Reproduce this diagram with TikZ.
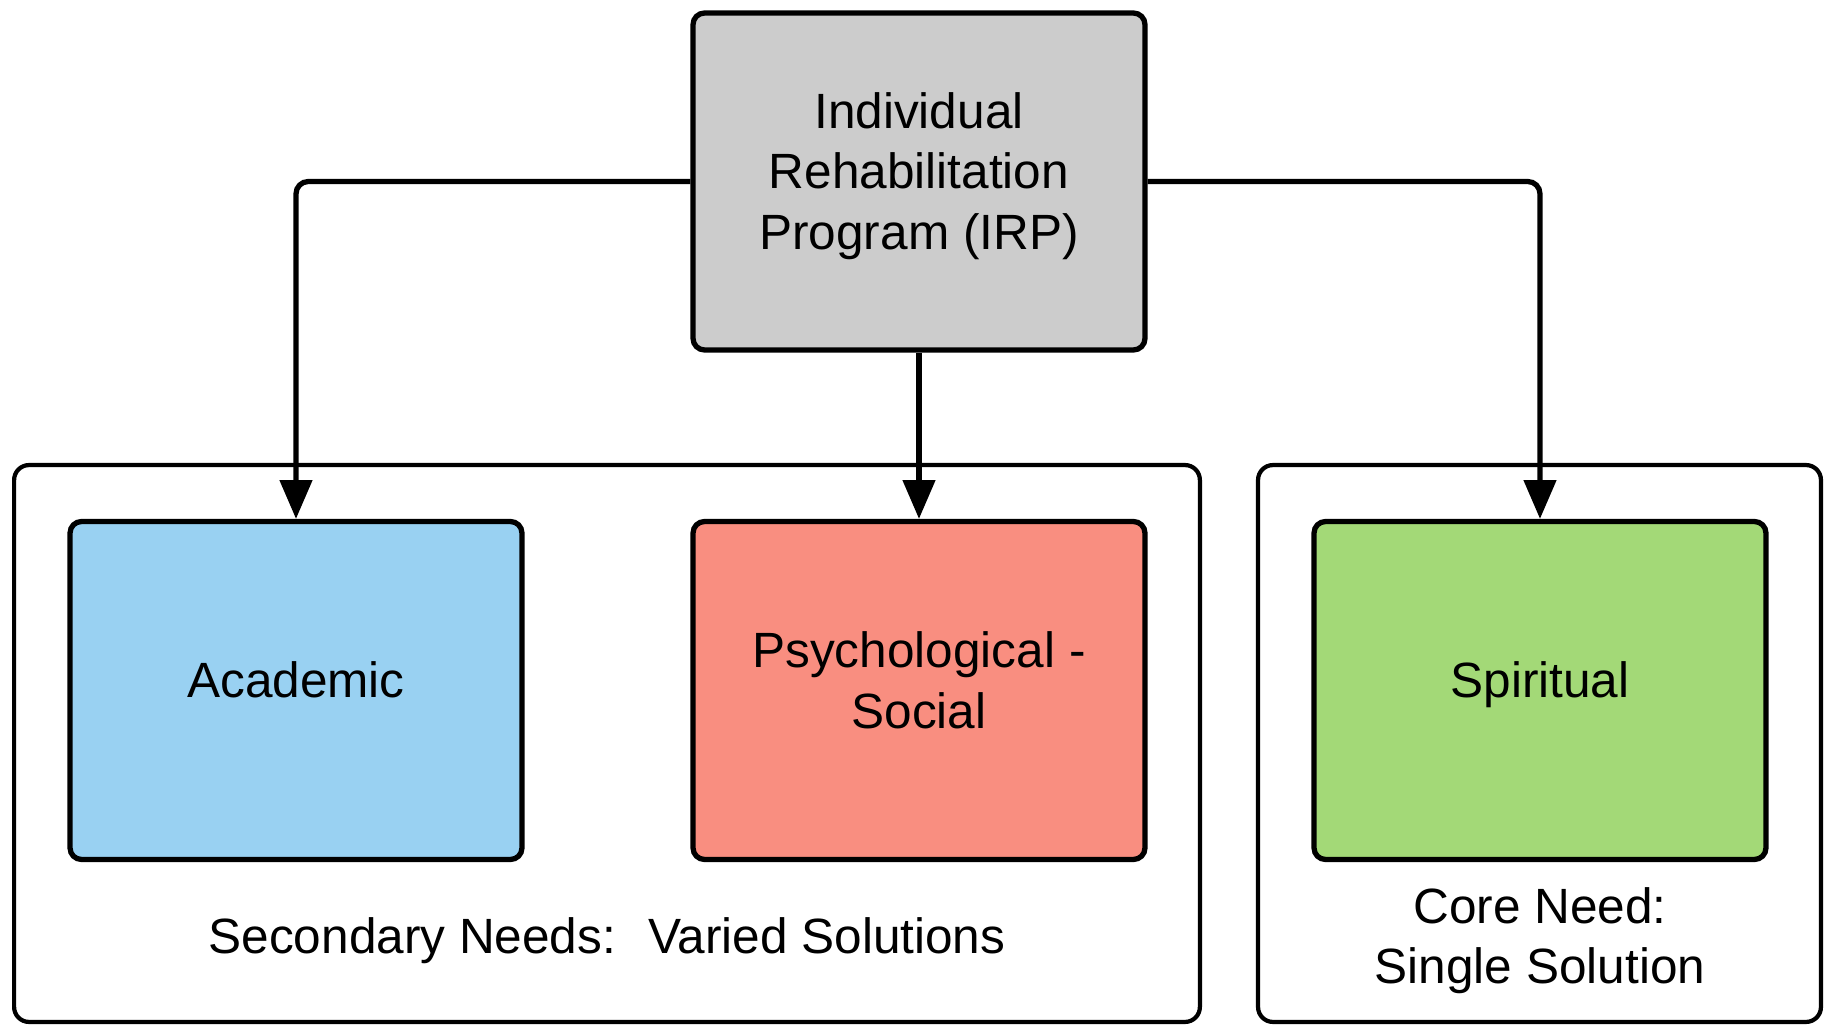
\documentclass[tikz,border=0pt]{standalone}
\usepackage{fontspec}
\setmainfont{Liberation Sans}
\usetikzlibrary{arrows.meta}
\definecolor{irpgray}{HTML}{CCCCCC}
\definecolor{acadblue}{HTML}{99D1F2}
\definecolor{psyred}{HTML}{F98E80}
\definecolor{spirgreen}{HTML}{A3D977}
\newcommand{\lnstrut}{\rule[-12pt]{0pt}{22pt}}
\begin{document}
\begin{tikzpicture}[x=0.02cm,y=-0.02cm,
  every node/.style={font=\fontsize{28.2pt}{34.4pt}\selectfont, align=center, inner sep=0pt},
  needbox/.style={draw=black, line width=3pt, rounded corners=6.5pt,
    minimum width=9.04cm, minimum height=6.76cm},
  groupbox/.style={draw=black, line width=2.4pt, rounded corners=8.5pt},
  link/.style={line width=3pt, rounded corners=7pt, -{Triangle[length=22pt,width=18pt]}}
]
\useasboundingbox (0,0) rectangle (1827,1027);
% containers
\node (grpsec) [groupbox, minimum width=23.72cm, minimum height=11.14cm] at (607,743.5) {};
\node (grpcore) [groupbox, minimum width=11.26cm, minimum height=11.14cm] at (1539.5,743.5) {};
% boxes
\node (irp) [needbox, fill=irpgray, minimum height=6.74cm] at (919,181.5)
  {\lnstrut Individual\\\lnstrut Rehabilitation\\\lnstrut Program (IRP)};
\node (acad) [needbox, fill=acadblue] at (296,690.5) {\lnstrut Academic};
\node (psy) [needbox, fill=psyred] at (919,690.5) {\lnstrut Psychological -\\\lnstrut Social};
\node (spir) [needbox, fill=spirgreen] at (1540,690.5) {\lnstrut Spiritual};
% connectors
\draw[link] (irp.west) -| (acad.north);
\draw[link] (irp.south) -- (psy.north);
\draw[link] (irp.east) -| (spir.north);
% labels
\node (seclbl) at (607,946) {\lnstrut Secondary Needs:~ Varied Solutions};
\node (corelbl) at (1540,946) {\lnstrut Core Need:\\\lnstrut Single Solution};
\end{tikzpicture}
\end{document}
